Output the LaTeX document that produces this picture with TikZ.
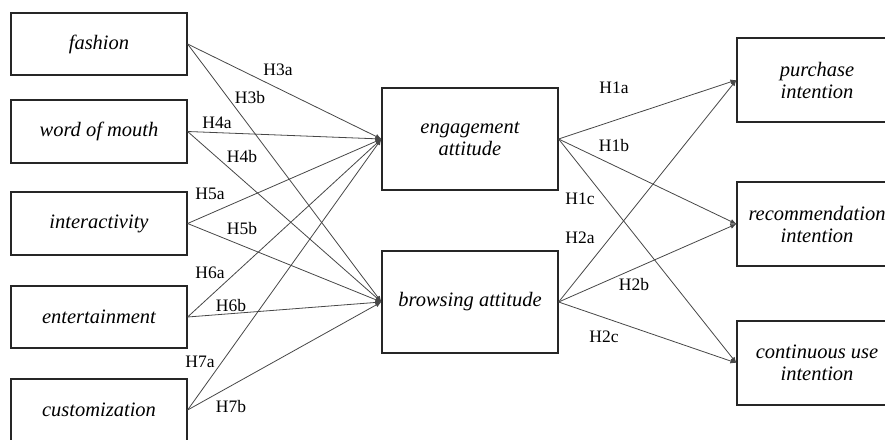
\documentclass[tikz,border=0pt]{standalone}
\usepackage{fontspec}
\setmainfont{Liberation Serif}
\usepackage{tikz}
\usetikzlibrary{arrows.meta}

\begin{document}
\begin{tikzpicture}[x=1pt,y=-1pt]
        \tikzstyle{arrow} = [draw=black!72,line width=0.8pt,->,>={Latex[length=6pt,width=5pt]}]
        \tikzstyle{var} = [draw=black!85,line width=1.2pt,minimum width=176pt,align=center,font=\fontsize{20.5}{22}\selectfont\itshape,inner sep=0pt]
        \tikzstyle{hyp} = [font=\fontsize{17.5}{18}\selectfont,inner sep=0pt]

        \useasboundingbox (0,0) rectangle (885,439);
        \clip (0,0) rectangle (885,439);

        % independent variables
        \node[var,minimum height=62pt] (fashion) at (99,44) {fashion};
        \node[var,minimum height=63pt] (wom) at (99,131.5) {word of mouth};
        \node[var,minimum height=63pt] (inter) at (99,223.5) {interactivity};
        \node[var,minimum height=62pt] (enter) at (99,317) {entertainment};
        \node[var,minimum height=62pt] (custom) at (99,410) {customization};

        % attitudes
        \node[var,minimum height=102pt] (engage) at (470,139) {engagement\\attitude};
        \node[var,minimum height=102pt] (browse) at (470,302) {browsing attitude};

        % intentions
        \node[var,minimum width=160pt,minimum height=84pt] (purchase) at (817,80) {purchase\\intention};
        \node[var,minimum width=160pt,minimum height=84pt] (recommend) at (817,224) {recommendation\\intention};
        \node[var,minimum width=160pt,minimum height=84pt] (contin) at (817,363) {continuous use\\intention};

        \draw [arrow] (fashion.east) -- (engage.west);
        \draw [arrow] (fashion.east) -- (browse.west);
        \draw [arrow] (wom.east) -- (engage.west);
        \draw [arrow] (wom.east) -- (browse.west);
        \draw [arrow] (inter.east) -- (engage.west);
        \draw [arrow] (inter.east) -- (browse.west);
        \draw [arrow] (enter.east) -- (engage.west);
        \draw [arrow] (enter.east) -- (browse.west);
        \draw [arrow] (custom.east) -- (engage.west);
        \draw [arrow] (custom.east) -- (browse.west);

        \draw [arrow] (engage.east) -- (purchase.west);
        \draw [arrow] (engage.east) -- (recommend.west);
        \draw [arrow] (engage.east) -- (contin.west);
        \draw [arrow] (browse.east) -- (purchase.west);
        \draw [arrow] (browse.east) -- (recommend.west);
        \draw [arrow] (browse.east) -- (contin.west);

        % hypothesis labels
        \node[hyp] (h3a) at (278,70) {H3a};
        \node[hyp] (h3b) at (250,98) {H3b};
        \node[hyp] (h4a) at (217,123) {H4a};
        \node[hyp] (h4b) at (242,157) {H4b};
        \node[hyp] (h5a) at (210,194) {H5a};
        \node[hyp] (h5b) at (242,229) {H5b};
        \node[hyp] (h6a) at (210,273) {H6a};
        \node[hyp] (h6b) at (231,306) {H6b};
        \node[hyp] (h7a) at (200,362) {H7a};
        \node[hyp] (h7b) at (231,407) {H7b};
        \node[hyp] (h1a) at (614,88) {H1a};
        \node[hyp] (h1b) at (614,146) {H1b};
        \node[hyp] (h1c) at (580,199) {H1c};
        \node[hyp] (h2a) at (580,238) {H2a};
        \node[hyp] (h2b) at (634,285) {H2b};
        \node[hyp] (h2c) at (604,337) {H2c};
    \end{tikzpicture}
\end{document}
